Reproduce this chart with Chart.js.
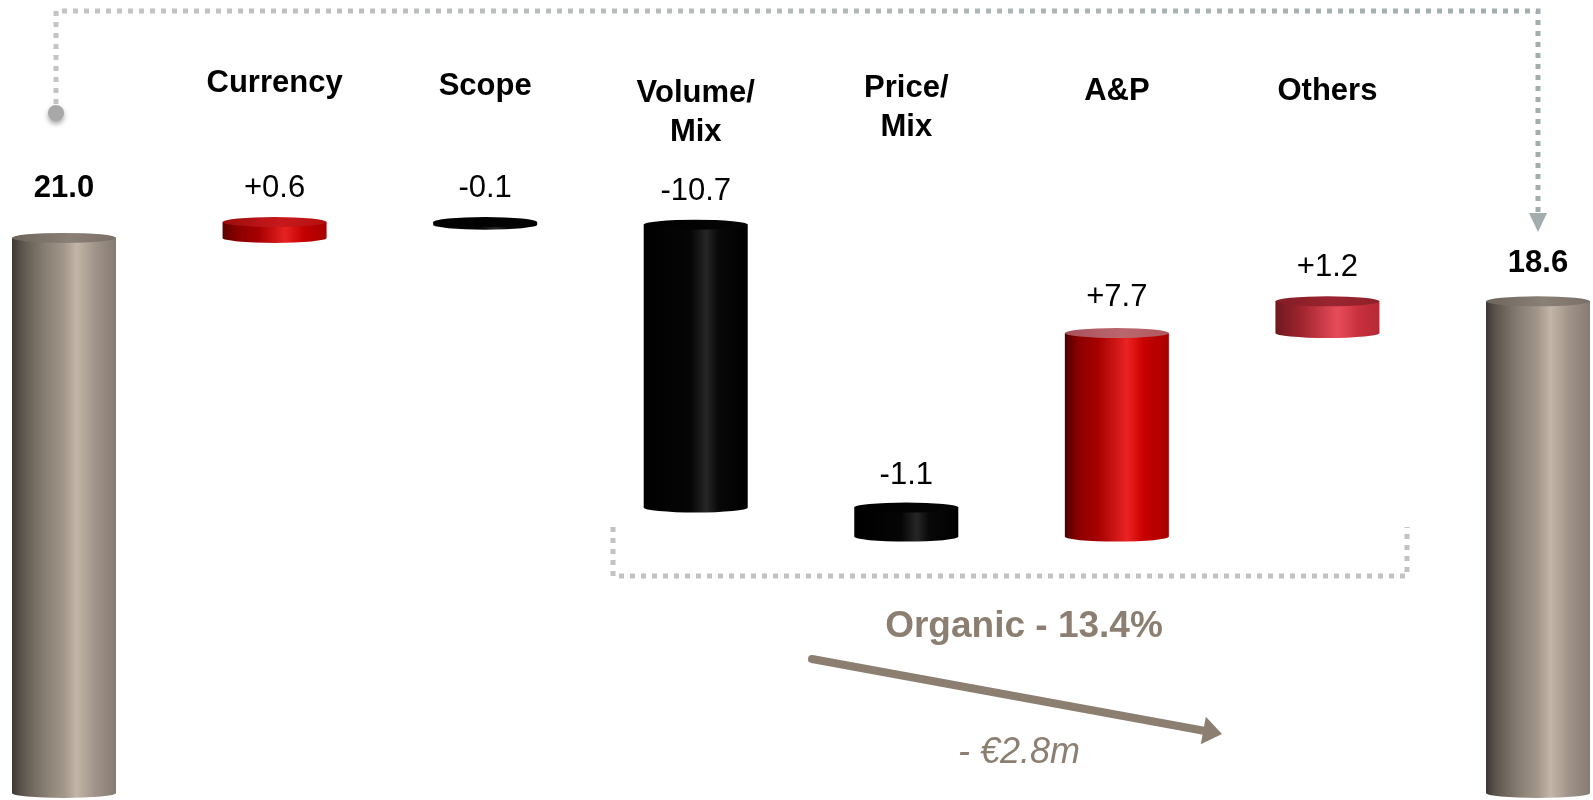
<!DOCTYPE html>
<html>
<head>
<meta charset="utf-8">
<title>Sales bridge</title>
<script src="https://cdn.jsdelivr.net/npm/chart.js@4.4.1/dist/chart.umd.min.js"></script>
<style>
  html, body { margin: 0; padding: 0; background: #fff; }
  #bridge { display: block; }
</style>
</head>
<body>
<canvas id="bridge" width="1593" height="800"></canvas>
<script>
// bridge data (€m)
const categories = ["", "Currency", "Scope", ["Volume/", "Mix"], ["Price/", "Mix"], "A&P", "Others", ""];
const startValue = 21.0;
const steps = [0.6, -0.1, -10.7, -1.1, 7.7, 1.2];
const endValue = 18.6;
const organicTitle = "Organic - 13.4%";
const organicChange = "- €2.8m";

// which colouring each cylinder gets
const barLooks = ["total", "red", "black", "black", "black", "redLight", "rose", "total"];
// how far each value label sits above its cylinder, and where the titles sit
const labelLift = [41, 25, 25, 25, 24, 27, 25, 29];
const titleBaseline = [0, 92, 95, 102, 97, 100, 100, 0];

const looks = {
    total: {
        side: [[0, "#3d3833"], [0.1, "#5e564e"], [0.3, "#857b71"], [0.5, "#a3978b"], [0.62, "#c3b5a7"], [0.8, "#a0948a"], [1, "#867b71"]],
        cap: [[0, "#6d645b"], [0.55, "#8a8076"], [1, "#7a7067"]]
    },
    red: {
        side: [[0, "#5e0000"], [0.15, "#8c0000"], [0.35, "#a80000"], [0.6, "#e62222"], [0.78, "#c40000"], [1, "#a80000"]],
        cap: [[0, "#9c0c0c"], [0.55, "#c8191c"], [1, "#b41010"]]
    },
    redLight: {
        side: [[0, "#4a0000"], [0.12, "#8a0000"], [0.32, "#a80000"], [0.5, "#d01818"], [0.6, "#ec2222"], [0.76, "#c80000"], [1, "#a60000"]],
        cap: [[0, "#a8505a"], [0.55, "#bb666d"], [1, "#b05860"]]
    },
    rose: {
        side: [[0, "#6e1820"], [0.25, "#a0242e"], [0.6, "#e84c5a"], [0.8, "#c8303c"], [1, "#b42a36"]],
        cap: [[0, "#841c25"], [0.55, "#9a2530"], [1, "#8e2029"]]
    },
    black: {
        side: [[0, "#000"], [0.45, "#050505"], [0.6, "#262626"], [0.72, "#080808"], [1, "#000"]],
        cap: [[0, "#000"], [1, "#050505"]]
    }
};

const FONT = "'Liberation Sans', Arial, sans-serif";
const TAUPE = "#8c7f71";

// floating ranges for the waterfall
let ranges = [[0, startValue]];
let level = startValue;
steps.forEach(function (s) {
    let next = Math.round((level + s) * 10) / 10;
    ranges.push([level, next]);
    level = next;
});
ranges.push([0, endValue]);

let valueText = [startValue.toFixed(1)];
steps.forEach(function (s) {
    valueText.push((s > 0 ? "+" : "") + s.toFixed(1));
});
valueText.push(endValue.toFixed(1));

function gradientAcross(ctx, left, width, stops) {
    let g = ctx.createLinearGradient(left, 0, left + width, 0);
    stops.forEach(function (s) { g.addColorStop(s[0], s[1]); });
    return g;
}

// paints every bar as a cylinder: shaded side, rounded bottom, elliptic top
const cylinders = {
    id: "cylinders",
    afterDatasetsDraw(chart) {
        const ctx = chart.ctx;
        const ry = 5;
        chart.getDatasetMeta(0).data.forEach(function (bar, i) {
            const p = bar.getProps(["x", "y", "base", "width"], true);
            const top = Math.min(p.y, p.base);
            const bottom = Math.max(p.y, p.base);
            const half = p.width / 2;
            const left = p.x - half;
            const look = looks[barLooks[i]];

            ctx.save();
            ctx.fillStyle = gradientAcross(ctx, left, p.width, look.side);
            ctx.beginPath();
            ctx.moveTo(left, top);
            ctx.lineTo(left, bottom);
            ctx.ellipse(p.x, bottom, half, ry, 0, Math.PI, 0, true);
            ctx.lineTo(left + p.width, top);
            ctx.closePath();
            ctx.fill();

            ctx.fillStyle = gradientAcross(ctx, left, p.width, look.cap);
            ctx.beginPath();
            ctx.ellipse(p.x, top, half, ry, 0, 0, Math.PI * 2);
            ctx.fill();
            ctx.restore();
        });
    }
};

function dottedPath(ctx, points) {
    ctx.beginPath();
    ctx.moveTo(points[0][0], points[0][1]);
    for (let k = 1; k < points.length; k++) {
        ctx.lineTo(points[k][0], points[k][1]);
    }
    ctx.stroke();
}

// titles, value labels and the organic bracket
const annotations = {
    id: "annotations",
    afterDraw(chart) {
        const ctx = chart.ctx;
        const bars = chart.getDatasetMeta(0).data;
        const last = bars.length - 1;

        ctx.save();
        ctx.textAlign = "center";
        ctx.textBaseline = "alphabetic";
        ctx.fillStyle = "#000";
        bars.forEach(function (bar, i) {
            const top = Math.min(bar.y, bar.base);
            const isTotal = i === 0 || i === last;
            ctx.font = (isTotal ? "bold " : "") + "31px " + FONT;
            ctx.fillText(valueText[i], bar.x, top - labelLift[i]);

            ctx.font = "bold 31px " + FONT;
            [].concat(categories[i]).forEach(function (line, k) {
                if (line) ctx.fillText(line, bar.x, titleBaseline[i] + k * 39);
            });
        });

        // link from opening to closing total
        const x0 = 56, x1 = bars[last].x;
        ctx.setLineDash([5, 6]);
        ctx.lineWidth = 5;
        ctx.strokeStyle = gradientAcross(ctx, x0, x1 - x0, [[0, "#c4c4c4"], [1, "#a3adad"]]);
        dottedPath(ctx, [[x0, 104], [x0, 11], [x1, 11], [x1, 214]]);
        ctx.setLineDash([]);
        ctx.fillStyle = "#a3adad";
        ctx.beginPath();
        ctx.moveTo(x1 - 9, 213);
        ctx.lineTo(x1 + 9, 213);
        ctx.lineTo(x1, 232);
        ctx.closePath();
        ctx.fill();

        ctx.save();
        ctx.shadowColor = "rgba(0,0,0,0.35)";
        ctx.shadowBlur = 5;
        ctx.shadowOffsetY = 3;
        ctx.fillStyle = "#a8a8a8";
        ctx.beginPath();
        ctx.arc(x0, 113, 8, 0, Math.PI * 2);
        ctx.fill();
        ctx.restore();

        // bracket under the organic steps
        ctx.setLineDash([5, 6]);
        ctx.strokeStyle = "#c2c2c2";
        dottedPath(ctx, [[613, 527], [613, 576], [1407, 576], [1407, 527]]);
        ctx.setLineDash([]);

        ctx.fillStyle = TAUPE;
        ctx.font = "bold 37px " + FONT;
        ctx.fillText(organicTitle, 1024, 637);
        ctx.font = "italic 36px " + FONT;
        ctx.fillText(organicChange, 1019, 763);

        // trend arrow
        const sx = 812, sy = 659, tx = 1222, ty = 734;
        const len = Math.hypot(tx - sx, ty - sy);
        const ux = (tx - sx) / len, uy = (ty - sy) / len;
        const bx = tx - ux * 19, by = ty - uy * 19;
        ctx.strokeStyle = TAUPE;
        ctx.lineWidth = 8;
        ctx.lineCap = "round";
        ctx.beginPath();
        ctx.moveTo(sx, sy);
        ctx.lineTo(bx + ux * 2, by + uy * 2);
        ctx.stroke();
        ctx.beginPath();
        ctx.moveTo(tx, ty);
        ctx.lineTo(bx - uy * 14, by + ux * 14);
        ctx.lineTo(bx + uy * 14, by - ux * 14);
        ctx.closePath();
        ctx.fill();
        ctx.restore();
    }
};

let ctx = document.getElementById("bridge").getContext("2d");
let chart = new Chart(ctx, {
    type: "bar",
    data: {
        labels: categories,
        datasets: [{
            data: ranges,
            backgroundColor: "rgba(0,0,0,0)",
            borderWidth: 0,
            categoryPercentage: 1,
            barPercentage: 0.494,
            clip: false
        }]
    },
    options: {
        responsive: false,
        animation: false,
        events: [],
        layout: {
            padding: { left: 64, right: 55, top: 0, bottom: 7 }
        },
        plugins: {
            legend: { display: false },
            tooltip: { enabled: false }
        },
        scales: {
            x: { offset: false, display: false, grid: { display: false } },
            y: { min: 0, max: 30, display: false, grid: { display: false } }
        }
    },
    plugins: [cylinders, annotations]
});
</script>
</body>
</html>
